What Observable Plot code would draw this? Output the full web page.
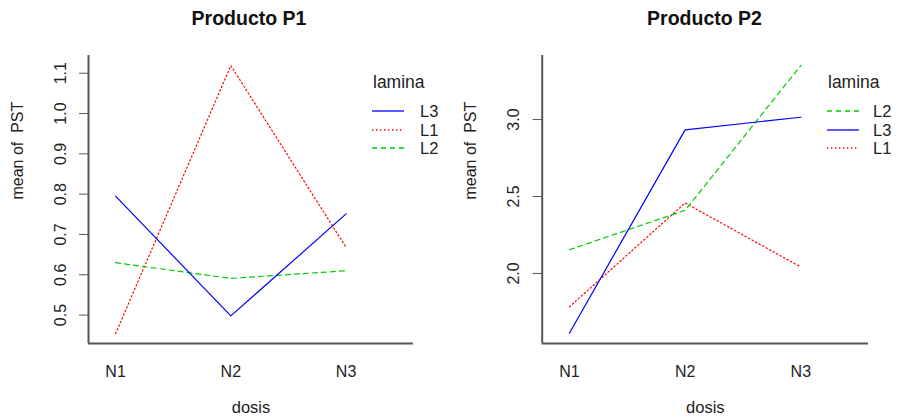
<!DOCTYPE html>
<html><head><meta charset="utf-8">
<script src="https://cdn.jsdelivr.net/npm/d3@7"></script>
<script src="https://cdn.jsdelivr.net/npm/@observablehq/plot@0.6"></script>
<style>
body{margin:0;background:#fff;}
#root{position:relative;width:898px;height:419px;overflow:hidden;background:#fff;font-family:"Liberation Sans",Arial,sans-serif;}
.panel{position:absolute;top:0;}
#overlay{position:absolute;left:0;top:0;pointer-events:none;}
svg text{white-space:pre;}
</style></head><body><div id="root"></div>
<script>
// ---- data ----
const dosis = ["N1", "N2", "N3"];
const laminas = ["L1", "L2", "L3"];
const p1_L1 = [0.454, 1.119, 0.668];
const p1_L2 = [0.630, 0.591, 0.610];
const p1_L3 = [0.795, 0.498, 0.751];
const p2_L1 = [1.783, 2.458, 2.042];
const p2_L2 = [2.154, 2.410, 3.351];
const p2_L3 = [1.612, 2.933, 3.015];
const titles = ["Producto P1", "Producto P2"];
const yTicks1 = [0.5, 0.6, 0.7, 0.8, 0.9, 1.0, 1.1];
const yTicks2 = [2.0, 2.5, 3.0];
const xLabel = "dosis";
const yLabel = "mean of  PST";
const legendTitle = "lamina";

const colors = {L1: "#ff0000", L2: "#00cd00", L3: "#0000ff"};
const dashes = {L1: "1.4,2.6", L2: "5,4", L3: null};
const font = "Liberation Sans, Arial, sans-serif";

function rowsOf(series) {
  const rows = [];
  laminas.forEach((l, j) => series[j].forEach((v, i) => rows.push({lamina: l, dosis: dosis[i], pos: i + 1, value: v})));
  return rows;
}
const rows1 = rowsOf([p1_L1, p1_L2, p1_L3]);
const rows2 = rowsOf([p2_L1, p2_L2, p2_L3]);

const xDomain = [0.765, 3.585];

function panel(rows, yDomain, yTicks, marginLeft, marginRight) {
  return Plot.plot({
    width: 449, height: 419,
    marginLeft, marginRight, marginTop: 55, marginBottom: 76,
    style: {fontFamily: font, fontSize: "16px", color: "#222", background: "transparent", overflow: "visible"},
    x: {domain: xDomain},
    y: {domain: yDomain},
    marks: [
      Plot.axisX({ticks: [1, 2, 3], tickFormat: i => dosis[i - 1], tickSize: 0, tickPadding: 22, label: null, fontSize: 16}),
      Plot.axisY({ticks: yTicks, tickFormat: d => d.toFixed(1), tickRotate: -90, tickSize: 9, tickPadding: 14, label: null, stroke: "#555", fontSize: 16}),
      Plot.ruleX([xDomain[0]], {stroke: "#555", strokeWidth: 2}),
      Plot.ruleY([yDomain[0]], {stroke: "#555", strokeWidth: 2}),
      ...laminas.map(l => Plot.line(rows.filter(r => r.lamina === l), {
        x: "pos", y: "value", stroke: colors[l], strokeWidth: 1.2, strokeDasharray: dashes[l]
      })),
      Plot.text([xLabel], {frameAnchor: "bottom", dy: 69, fontSize: 16.5, fill: "#222"}),
      Plot.text([yLabel], {frameAnchor: "left", dx: -71, rotate: -90, fontSize: 16, fill: "#222"})
    ]
  });
}

const root = document.getElementById("root");
const c1 = panel(rows1, [0.4295, 1.144], yTicks1, 88, 36);
c1.classList.add("panel"); c1.style.left = "0px";
const c2 = panel(rows2, [1.545, 3.416], yTicks2, 92.7, 30);
c2.classList.add("panel"); c2.style.left = "449px";
root.appendChild(c1); root.appendChild(c2);

// titles and legends overlay
const svg = d3.select(root).append("svg").attr("id", "overlay")
  .attr("width", 898).attr("height", 419)
  .style("font-family", font);

const titleX = [249, 704.5];
titles.forEach((t, k) => svg.append("text").attr("x", titleX[k]).attr("y", 25)
  .attr("text-anchor", "middle").attr("font-weight", "bold").attr("font-size", 19.5)
  .attr("fill", "#111").text(t));

function legend(series, x0, lineX1, labelX) {
  const last = laminas.map((l, j) => ({l, v: series[j][series[j].length - 1]}))
    .sort((a, b) => b.v - a.v);
  svg.append("text").attr("x", x0).attr("y", 81.7).attr("dy", "0.35em")
    .attr("font-size", 17.5).attr("fill", "#222").text(legendTitle);
  const ys = [111, 130, 148];
  last.forEach((d, k) => {
    svg.append("line").attr("x1", x0 - 1).attr("x2", lineX1).attr("y1", ys[k]).attr("y2", ys[k])
      .attr("stroke", colors[d.l]).attr("stroke-width", 1.3)
      .attr("stroke-dasharray", dashes[d.l]);
    svg.append("text").attr("x", labelX).attr("y", ys[k]).attr("dy", "0.35em")
      .attr("font-size", 16.5).attr("fill", "#222").text(d.l);
  });
}
legend([p1_L1, p1_L2, p1_L3], 373, 404, 420);
legend([p2_L1, p2_L2, p2_L3], 828, 859, 873);
</script></body></html>
